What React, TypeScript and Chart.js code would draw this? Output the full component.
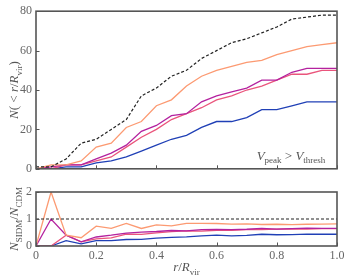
import React, { useEffect, useRef } from "react";
import { Chart, registerables } from "chart.js";

Chart.register(...registerables);

// r / R_vir sample points
const radius = [0, 0.05, 0.1, 0.15, 0.2, 0.25, 0.3, 0.35, 0.4, 0.45, 0.5, 0.55, 0.6, 0.65, 0.7, 0.75, 0.8, 0.85, 0.9, 0.95, 1.0];
// cumulative subhalo counts N(< r/R_vir)
const cdmCounts = [1, 1, 5, 13, 15, 20, 25, 37, 41, 47, 50, 56, 60, 64, 66, 69, 72, 76, 77, 78, 78];
const sidmOrange = [0, 2, 2, 4, 11, 13, 21, 24, 32, 35, 42, 47, 50, 52, 54, 55, 58, 60, 62, 63, 64];
const sidmMagenta = [0, 1, 2, 2, 5, 8, 12, 19, 22, 27, 28, 34, 37, 39, 41, 45, 45, 49, 51, 51, 51];
const sidmPink = [0, 0, 2, 2, 4, 6, 11, 16, 20, 25, 28, 31, 35, 37, 40, 42, 45, 48, 48, 50, 50];
const sidmBlue = [0, 0, 1, 1, 3, 4, 6, 9, 12, 15, 17, 21, 24, 24, 26, 30, 30, 32, 34, 34, 34];

const xTickValues = [0, 0.2, 0.4, 0.6, 0.8, 1.0];
const xTickLabels = ["0", "0.2", "0.4", "0.6", "0.8", "1.0"];
const topYTicks = [0, 20, 40, 60, 80];
const bottomYTicks = [0, 1, 2];

const COLORS = {
  cdm: "#222222",
  orange: "#fc9a72",
  magenta: "#b4229f",
  pink: "#ea557c",
  blue: "#2040b6",
};

const FONT = '"Liberation Serif", "DejaVu Serif", serif';
const TICK_COLOR = "#666";
const TITLE_COLOR = "#555";

type Run = { t: string; it?: boolean; sub?: boolean };

function drawRich(
  ctx: CanvasRenderingContext2D,
  runs: Run[],
  x: number,
  y: number,
  size: number,
  color: string,
  rotate = false
) {
  ctx.save();
  ctx.translate(x, y);
  if (rotate) ctx.rotate(-Math.PI / 2);
  const font = (r: Run) => `${r.it ? "italic " : ""}${r.sub ? Math.round(size * 0.72) : size}px ${FONT}`;
  let total = 0;
  for (const r of runs) {
    ctx.font = font(r);
    total += ctx.measureText(r.t).width;
  }
  let cx = -total / 2;
  ctx.fillStyle = color;
  ctx.textBaseline = "alphabetic";
  ctx.textAlign = "left";
  for (const r of runs) {
    ctx.font = font(r);
    ctx.fillText(r.t, cx, r.sub ? size * 0.28 : 0);
    cx += ctx.measureText(r.t).width;
  }
  ctx.restore();
}

function makeFramePlugin(yTicks: number[], extra: (ctx: CanvasRenderingContext2D, chart: any) => void) {
  return {
    id: "frameAndText",
    afterDraw(chart: any) {
      const { ctx, chartArea: a, scales } = chart;
      ctx.save();
      ctx.strokeStyle = "#555";
      ctx.lineWidth = 1;
      for (const v of xTickValues) {
        const px = Math.round(scales.x.getPixelForValue(v)) + 0.5;
        ctx.beginPath();
        ctx.moveTo(px, a.bottom);
        ctx.lineTo(px, a.bottom - 3.5);
        ctx.stroke();
      }
      for (const v of yTicks) {
        const py = Math.round(scales.y.getPixelForValue(v)) + 0.5;
        ctx.beginPath();
        ctx.moveTo(a.left, py);
        ctx.lineTo(a.left + 3.5, py);
        ctx.stroke();
      }
      ctx.lineWidth = 1.6;
      ctx.strokeStyle = "#555";
      ctx.strokeRect(a.left, a.top, a.right - a.left, a.bottom - a.top);
      ctx.restore();
      extra(ctx, chart);
    },
  };
}

const pts = (arr: number[]) => arr.map((v, i) => ({ x: radius[i], y: v }));
const ratio = (arr: number[]) => arr.map((v, i) => ({ x: radius[i], y: v / cdmCounts[i] }));

function line(label: string, data: any[], color: string, dashed = false) {
  return {
    label,
    data,
    borderColor: color,
    backgroundColor: color,
    borderWidth: dashed ? 1.2 : 1.3,
    borderDash: dashed ? [3, 2] : [],
    pointRadius: 0,
    tension: 0,
    fill: false,
  };
}

const baseX = (showLabels: boolean, height: number) => ({
  type: "linear" as const,
  min: 0,
  max: 1,
  grid: { display: false, drawTicks: false },
  border: { display: false },
  ticks: {
    display: showLabels,
    stepSize: 0.2,
    padding: 3,
    color: TICK_COLOR,
    font: { family: FONT, size: 12 },
    callback: (v: any) => {
      const idx = xTickValues.findIndex((t) => Math.abs(t - Number(v)) < 1e-6);
      return idx >= 0 ? xTickLabels[idx] : "";
    },
  },
  afterFit: (s: any) => {
    s.height = height;
  },
});

const baseY = (min: number, max: number, step: number, labels: number[]) => ({
  type: "linear" as const,
  min,
  max,
  grid: { display: false, drawTicks: false },
  border: { display: false },
  ticks: {
    stepSize: step,
    padding: 4,
    color: TICK_COLOR,
    font: { family: FONT, size: 12 },
    callback: (v: any) => (labels.includes(Number(v)) ? String(v) : ""),
  },
  afterFit: (s: any) => {
    s.width = 36;
  },
});

export default function App() {
  const topRef = useRef<HTMLCanvasElement>(null);
  const botRef = useRef<HTMLCanvasElement>(null);

  useEffect(() => {
    const top = new Chart(topRef.current!, {
      type: "line",
      data: {
        datasets: [
          line("CDM", pts(cdmCounts), COLORS.cdm, true),
          line("SIDM orange", pts(sidmOrange), COLORS.orange),
          line("SIDM magenta", pts(sidmMagenta), COLORS.magenta),
          line("SIDM pink", pts(sidmPink), COLORS.pink),
          line("SIDM blue", pts(sidmBlue), COLORS.blue),
        ],
      },
      options: {
        animation: false,
        responsive: false,
        devicePixelRatio: 1,
        layout: { padding: { left: 0, right: 13, top: 9, bottom: 0 } },
        plugins: { legend: { display: false }, tooltip: { enabled: false } },
        scales: {
          x: baseX(false, 9),
          y: baseY(0, 80, 20, topYTicks),
        },
      },
      plugins: [
        makeFramePlugin(topYTicks, (ctx, chart) => {
          const a = chart.chartArea;
          drawRich(
            ctx,
            [
              { t: "N", it: true },
              { t: "(" },
              { t: " < " },
              { t: "r", it: true },
              { t: "/" },
              { t: "R", it: true },
              { t: "vir", sub: true },
              { t: ")" },
            ],
            18,
            (a.top + a.bottom) / 2,
            13,
            TITLE_COLOR,
            true
          );
          drawRich(
            ctx,
            [
              { t: "V", it: true },
              { t: "peak", sub: true },
              { t: " > " },
              { t: "V", it: true },
              { t: "thresh", sub: true },
            ],
            291,
            159.5,
            13,
            TITLE_COLOR
          );
        }),
      ],
    } as any);

    const bottom = new Chart(botRef.current!, {
      type: "line",
      data: {
        datasets: [
          line("unity", [
            { x: 0, y: 1 },
            { x: 1, y: 1 },
          ], COLORS.cdm, true),
          line("SIDM orange", ratio(sidmOrange), COLORS.orange),
          line("SIDM magenta", ratio(sidmMagenta), COLORS.magenta),
          line("SIDM pink", ratio(sidmPink), COLORS.pink),
          line("SIDM blue", ratio(sidmBlue), COLORS.blue),
        ],
      },
      options: {
        animation: false,
        responsive: false,
        devicePixelRatio: 1,
        layout: { padding: { left: 0, right: 13, top: 12, bottom: 0 } },
        plugins: { legend: { display: false }, tooltip: { enabled: false } },
        scales: {
          x: baseX(true, 34),
          y: baseY(0, 2, 1, bottomYTicks),
        },
      },
      plugins: [
        makeFramePlugin(bottomYTicks, (ctx, chart) => {
          const a = chart.chartArea;
          drawRich(
            ctx,
            [
              { t: "N", it: true },
              { t: "SIDM", sub: true },
              { t: "/" },
              { t: "N", it: true },
              { t: "CDM", sub: true },
            ],
            18,
            (a.top + a.bottom) / 2,
            13,
            TITLE_COLOR,
            true
          );
          drawRich(
            ctx,
            [
              { t: "r", it: true },
              { t: "/" },
              { t: "R", it: true },
              { t: "vir", sub: true },
            ],
            (a.left + a.right) / 2,
            91,
            13,
            TITLE_COLOR
          );
        }),
      ],
    } as any);

    return () => {
      top.destroy();
      bottom.destroy();
    };
  }, []);

  return (
    <div style={{ position: "absolute", left: 0, top: 0, width: 350, height: 280, background: "#fff" }}>
      <canvas ref={topRef} width={350} height={180} style={{ position: "absolute", left: 0, top: 0, width: 350, height: 180 }} />
      <canvas ref={botRef} width={350} height={100} style={{ position: "absolute", left: 0, top: 180, width: 350, height: 100 }} />
    </div>
  );
}
